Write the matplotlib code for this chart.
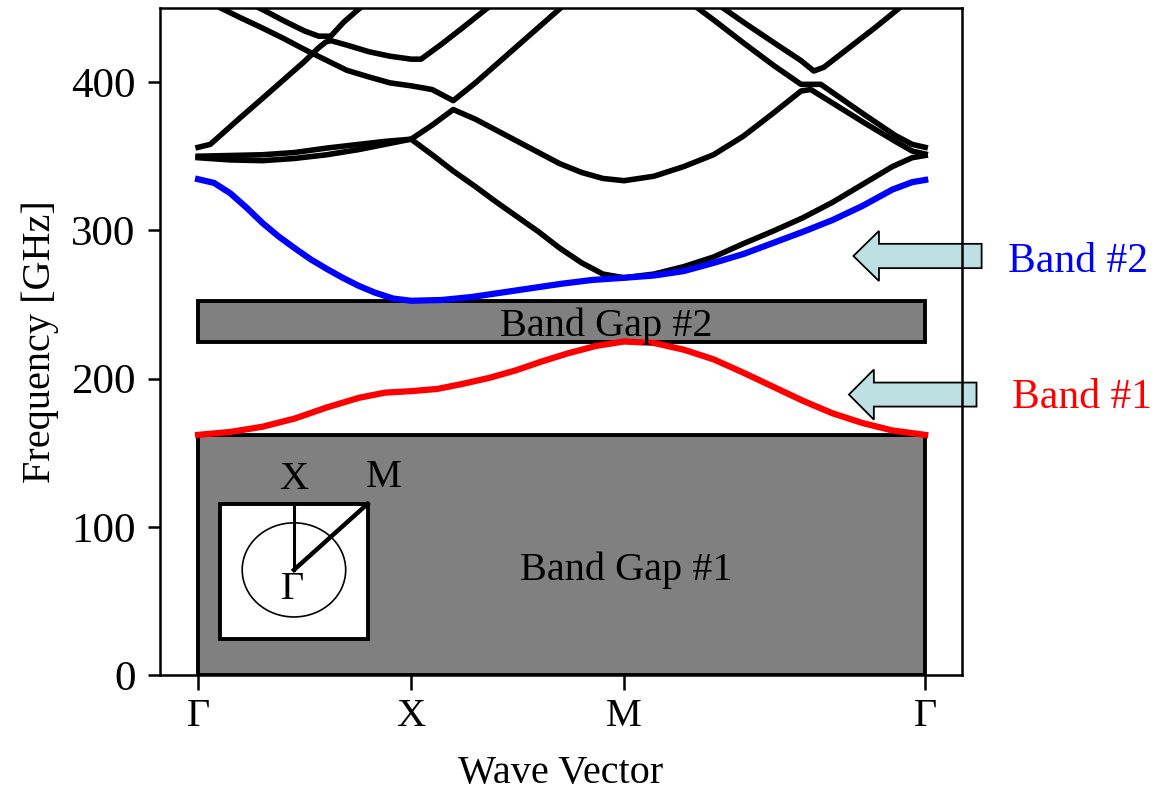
import matplotlib.pyplot as plt
import numpy as np
from matplotlib.patches import Rectangle, Ellipse, FancyArrow

plt.rcParams['font.family'] = ['Liberation Serif', 'DejaVu Serif']
plt.rcParams['font.size'] = 29

# high symmetry points along the path Gamma -> X -> M -> Gamma
sym_k = [0, 1, 2, 2 + np.sqrt(2)]
sym_labels = ['Γ', 'X', 'M', 'Γ']

# band 1 (red)
k_band1 = [0, 0.151, 0.302, 0.453, 0.604, 0.755, 0.877, 1.0, 1.123, 1.245, 1.368, 1.491, 1.613,
           1.736, 1.868, 2.0, 2.140, 2.280, 2.420, 2.560, 2.700, 2.840, 2.980, 3.120, 3.260, 3.414]
f_band1 = [162, 164, 167.5, 173, 180.5, 187, 190.5, 191.5, 193, 196.5, 200.5, 205.5, 211.5,
           217, 222, 225, 224, 219.5, 213, 204, 194.5, 185, 176.5, 170, 165, 162]

# band 2 (blue)
k_band2 = [0, 0.075, 0.151, 0.226, 0.302, 0.377, 0.453, 0.528, 0.604, 0.679, 0.755, 0.830, 0.915,
           1.0, 1.142, 1.283, 1.425, 1.566, 1.708, 1.849, 2.0, 2.140, 2.280, 2.420, 2.560, 2.700,
           2.840, 2.980, 3.120, 3.260, 3.353, 3.414]
f_band2 = [334.5, 332, 325, 315.5, 305, 296, 288, 280.5, 274, 268, 262.5, 258, 254,
           252.5, 253, 255, 258, 261, 264, 266.5, 268, 269.5, 272.5, 278, 284, 291.5,
           299, 307, 316.5, 327.5, 332.5, 334]

# higher bands (black)
k_band3 = [0, 0.151, 0.302, 0.453, 0.604, 0.755, 0.877, 1.0, 1.099, 1.198, 1.302, 1.401, 1.5,
           1.599, 1.698, 1.802, 1.901, 2.0, 2.140, 2.280, 2.420, 2.560, 2.700, 2.840, 2.980,
           3.120, 3.260, 3.353, 3.414]
f_band3 = [349, 347.5, 347, 348.5, 351, 354.5, 358, 361.5, 351, 340, 329.5, 319, 309,
           299, 288, 278, 270.5, 268, 270.5, 275.5, 282, 291, 299.5, 308.5, 319,
           331, 343, 349, 350.5]

k_band4 = [0, 0.151, 0.302, 0.453, 0.604, 0.755, 0.877, 1.0, 1.099, 1.198, 1.302, 1.401, 1.5,
           1.599, 1.698, 1.802, 1.901, 2.0, 2.140, 2.280, 2.420, 2.560, 2.700, 2.831, 2.877,
           2.989, 3.129, 3.274, 3.353, 3.414]
f_band4 = [350, 350.5, 351, 352.5, 355.5, 358, 360, 361.5, 371, 381.5, 375, 367.5, 360,
           352.5, 345, 339, 335, 333.5, 336.5, 343, 351, 363.5, 379, 394, 395,
           385, 372.5, 360, 353.5, 351.5]

k_band5 = [0, 0.057, 0.198, 0.302, 0.401, 0.5, 0.538, 0.599, 0.698, 0.802, 0.901, 1.0, 1.099,
           1.198, 1.302, 1.401, 1.5, 1.599, 1.698, 1.802, 2.0, 2.140, 2.285, 2.425, 2.565,
           2.705, 2.831, 2.924, 2.989, 3.129, 3.274, 3.353, 3.414]
f_band5 = [356, 358, 376, 389, 401.5, 414, 419.3, 415, 408, 403.5, 399.5, 397.5, 395,
           387.5, 399.5, 412, 424.5, 437, 449.5, 462, 487, 472, 456.5, 441.5, 426,
           411, 398.5, 398.5, 392, 378, 364, 358, 356]

k_band6 = [0, 0.099, 0.198, 0.302, 0.401, 0.5, 0.538, 0.566, 0.599, 0.623, 0.698, 0.802, 0.901,
           1.0, 1.047, 1.142, 1.245, 1.363, 1.5, 1.708, 2.0, 2.140, 2.285, 2.425, 2.565,
           2.705, 2.831, 2.891, 2.938, 3.064, 3.181, 3.297, 3.414]
f_band6 = [458, 450.5, 443.5, 436.5, 429.5, 422, 419.3, 423.2, 427, 428, 425, 420.5, 417.5,
           415.5, 415.5, 425.5, 437, 450.5, 466, 490, 520, 481, 467, 454, 440,
           426.5, 414.5, 407.5, 410, 424, 437, 450.5, 463.5]

k_band7 = [0, 0.099, 0.198, 0.302, 0.401, 0.5, 0.566, 0.623, 0.684, 0.764, 0.901, 1.0, 1.5,
           2.0, 2.705, 3.414]
f_band7 = [470, 463, 456, 449, 441.5, 434.5, 431, 431, 440.5, 450.5, 467, 480, 510,
           530, 500, 480]

black_bands = [(k_band3, f_band3), (k_band4, f_band4), (k_band5, f_band5),
               (k_band6, f_band6), (k_band7, f_band7)]

fig = plt.figure(figsize=(11.56, 7.93), dpi=100)
ax = fig.add_axes([0.1384, 0.1488, 0.6938, 0.8411])

# band gaps from the band edges
k_end = sym_k[-1]
gap1_top = min(f_band1)
gap2_lo, gap2_hi = max(f_band1), min(f_band2)
ax.add_patch(Rectangle((0, 0), k_end, gap1_top, fc='#808080', ec='black', lw=2.8, zorder=1))
ax.add_patch(Rectangle((0, gap2_lo), k_end, gap2_hi - gap2_lo, fc='#808080', ec='black',
                       lw=2.8, zorder=1))
ax.text(1.915, 228.6, 'Band Gap #2', ha='center', va='baseline', zorder=6)
ax.text(2.009, 64.2, 'Band Gap #1', ha='center', va='baseline', zorder=6)

for kb, fb in black_bands:
    ax.plot(kb, fb, color='black', lw=4.0, solid_joinstyle='round', zorder=3)
ax.plot(k_band2, f_band2, color='blue', lw=4.5, solid_joinstyle='round', zorder=4)
ax.plot(k_band1, f_band1, color='red', lw=4.5, solid_joinstyle='round', zorder=4)

# small Brillouin zone sketch
ax.add_patch(Rectangle((0.104, 24.1), 0.692, 91.4, fc='white', ec='black', lw=2.8, zorder=5))
ax.add_patch(Ellipse((0.45, 70.9), 0.486, 63.5, fill=False, ec='black', lw=1.2, zorder=5))
ax.plot([0.45, 0.45], [70.9, 115.5], color='black', lw=2.2, zorder=5)
ax.plot([0.45, 0.796], [70.9, 115.5], color='black', lw=3.2, zorder=5)
ax.text(0.45, 131.8, 'X', ha='center', va='center', zorder=6)
ax.text(0.874, 133, 'M', ha='center', va='center', zorder=6)
ax.text(0.442, 57.4, 'Γ', ha='center', va='center', zorder=6)

# arrows pointing at the two bands
arrow_kw = dict(fc='#bde0e3', ec='black', lw=1.3, length_includes_head=True,
                clip_on=False, zorder=2)
ax.add_patch(FancyArrow(3.679, 282.7, 3.077 - 3.679, 0, width=16.4, head_width=33.8,
                        head_length=0.12, **arrow_kw))
ax.add_patch(FancyArrow(3.655, 189.2, 3.056 - 3.655, 0, width=16.2, head_width=33.8,
                        head_length=0.117, **arrow_kw))
ax.text(3.801, 271.6, 'Band #2', color='blue', ha='left', va='baseline', fontsize=30)
ax.text(3.822, 180.4, 'Band #1', color='red', ha='left', va='baseline', fontsize=30)

ax.set_xlim(-0.179, 3.587)
ax.set_ylim(0, 450)
ax.set_xticks(sym_k, sym_labels)
ax.set_yticks([0, 100, 200, 300, 400])
ax.tick_params(axis='both', direction='out', width=1.8, labelsize=29)
ax.tick_params(axis='y', length=8.6, pad=9, labelsize=31)
ax.tick_params(axis='x', length=10.8, pad=6)
for sp in ax.spines.values():
    sp.set_linewidth(1.8)
ax.set_xlabel('Wave Vector', labelpad=14)
ax.set_ylabel('Frequency [GHz]', labelpad=9)

fig.savefig('out.png', dpi=100)
